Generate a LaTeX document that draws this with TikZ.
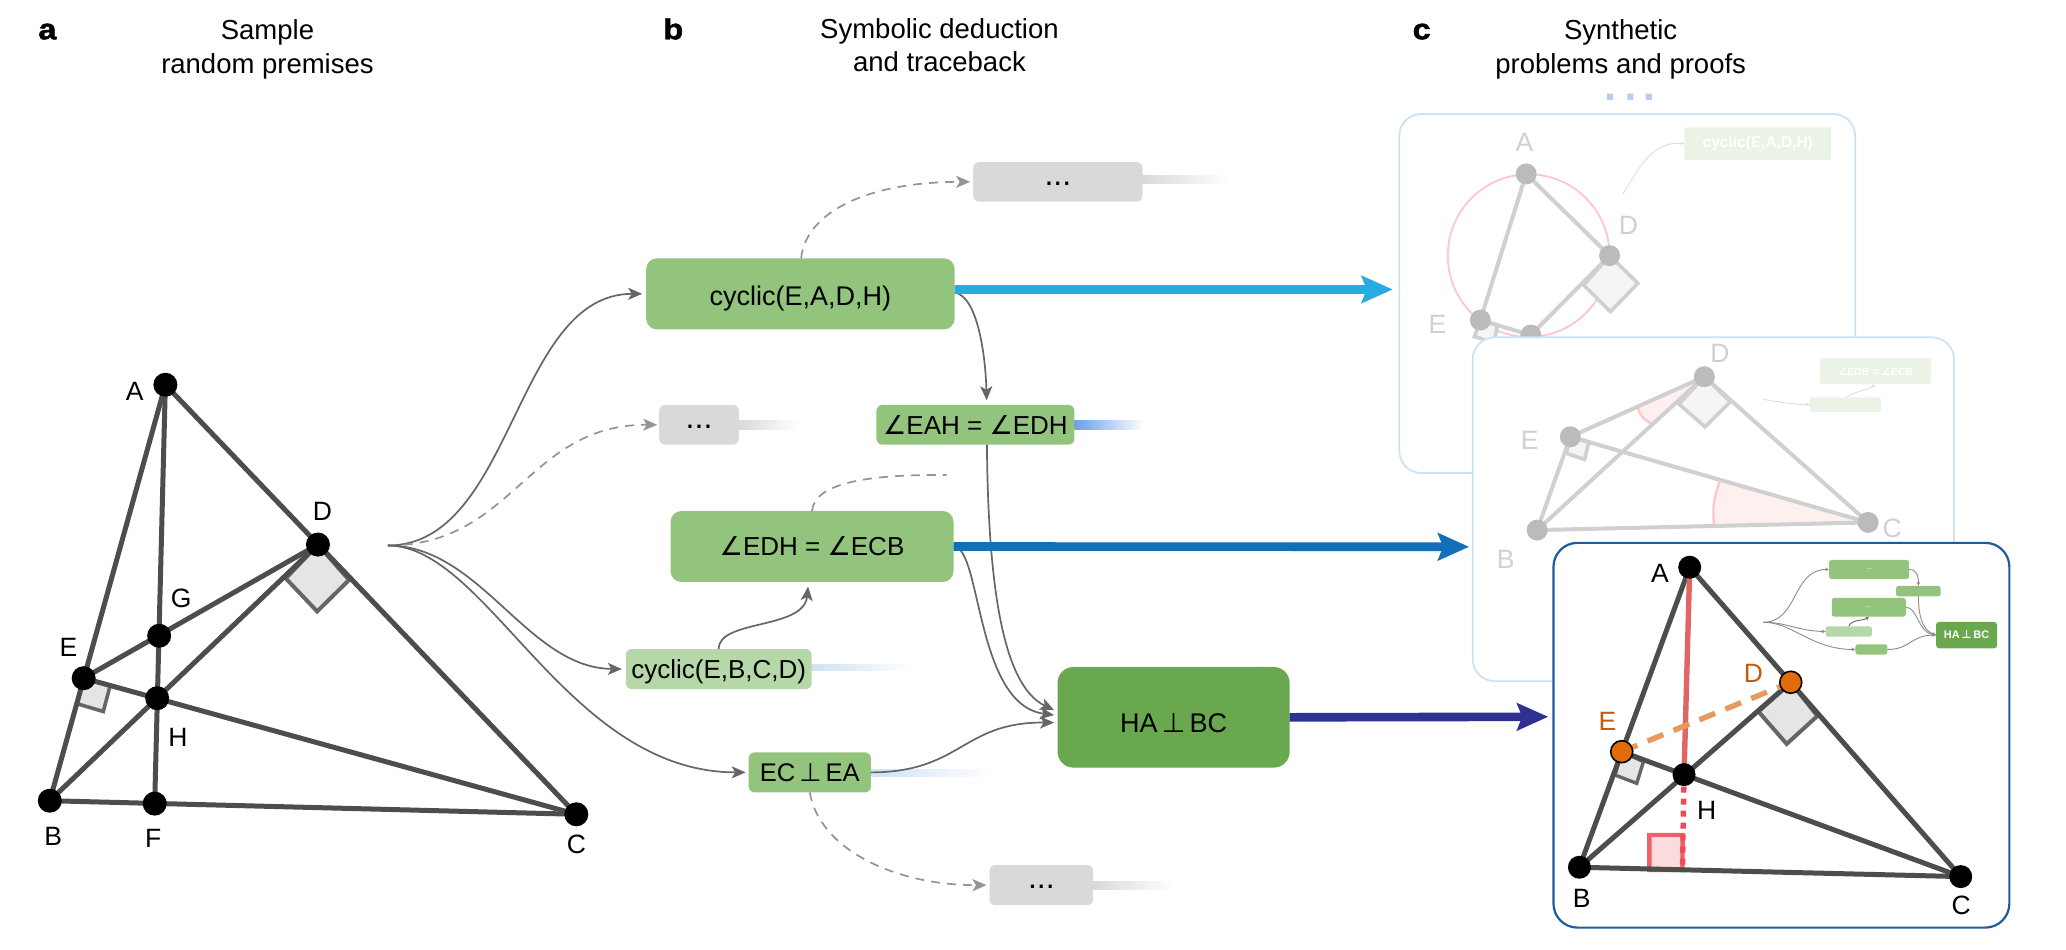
\documentclass[tikz,border=0pt]{standalone}
\usepackage{fontspec}
\setmainfont{Liberation Sans}
\newfontfamily\symf{DejaVu Sans}
\newfontfamily\tagf[BoldFeatures={FakeBold=1.6,FakeStretch=1.12}]{Liberation Sans}
\usetikzlibrary{arrows.meta,calc}
\newcommand{\ang}{{\symf ∠}}
\newcommand{\perpx}{{\hspace{.16em}\symf ⊥\hspace{.16em}}}
\newcommand{\fs}[1]{\fontsize{#1}{#1}\selectfont}
\newcommand{\rbox}[7][]{\node[rb,#1,minimum width={(#5-#3)*1.3176},minimum height={(#6-#4)*1.3176}] (#2) at ({(#3+#5)/2},{(#4+#6)/2}) {#7};}
\definecolor{gm}{HTML}{93C47D}
\definecolor{gl}{HTML}{B6D7A8}
\definecolor{gd}{HTML}{6AA84F}
\definecolor{gy}{HTML}{D9D9D9}
\definecolor{ln}{HTML}{4D4D4D}
\definecolor{fa}{HTML}{D0D0D0}
\definecolor{fn}{HTML}{BBBBBB}
\definecolor{fb}{HTML}{EAF3E6}
\definecolor{pl}{HTML}{CFE2F3}
\definecolor{org}{HTML}{E36C0A}
\definecolor{HL}{HTML}{1F5C99}
\definecolor{redln}{HTML}{E06666}
\definecolor{reddot}{HTML}{EE4B55}
\definecolor{redsq}{HTML}{F0606A}
\definecolor{redfill}{HTML}{FBDCDC}
\definecolor{orgd}{HTML}{E69A5F}
\definecolor{arA}{HTML}{29ABE2}
\definecolor{arB}{HTML}{1170BA}
\definecolor{arC}{HTML}{2E3192}
\definecolor{tailb}{HTML}{6D9EEB}
\definecolor{dotc}{HTML}{B9CDF0}
\tikzset{
 rb/.style={inner sep=0pt,outer sep=0pt,text=black},
 bigbox/.style={fill=gm,rounded corners=11pt,font=\fs{27}},
 smallbox/.style={fill=gm,rounded corners=6pt,font=\fs{26}},
 lightbox/.style={fill=gl,rounded corners=6pt,font=\fs{26}},
 greybox/.style={fill=gy,rounded corners=6pt,font=\fs{32},text height=7pt,text depth=0pt},
 finalbox/.style={fill=gd,rounded corners=16pt,font=\fs{27}},
 panelbox/.style={fill=white,draw=pl,line width=1.8pt,rounded corners=22pt},
 mainpanel/.style={fill=white,draw=HL,line width=2.2pt,rounded corners=24pt},
 title/.style={font=\fontsize{27.5}{33.3}\selectfont,align=center,inner sep=0pt},
 tag/.style={font=\tagf\bfseries\fs{29},inner sep=0pt,anchor=base},
 pt/.style={circle,fill=black,minimum size=24pt,inner sep=0pt,outer sep=0pt},
 ptf/.style={circle,fill=fn,minimum size=21pt,inner sep=0pt,outer sep=0pt},
 pto/.style={circle,fill=org,draw=black,line width=1.6pt,minimum size=22pt,inner sep=0pt,outer sep=0pt},
 lab/.style={font=\fs{26.5},inner sep=0pt},
 labf/.style={font=\fs{26.5},inner sep=0pt,text=fa},
 labo/.style={font=\fs{26.5},inner sep=0pt,text=org!85!black},
 seg/.style={line width=5pt,draw=ln},
 segf/.style={line width=4pt,draw=fa},
 sq/.style={fill=black!10,draw=black!60,line width=4pt,line join=miter},
 sqf/.style={fill=black!4,draw=fa,line width=3.6pt},
 conn/.style={draw=black!60,line width=1.7pt,-{Stealth[length=14pt,width=12pt,inset=3.5pt]}},
 dconn/.style={draw=black!42,line width=1.7pt,dash pattern=on 9pt off 7pt,-{Stealth[length=14pt,width=12pt,inset=3.5pt]}},
 dline/.style={draw=black!42,line width=1.7pt,dash pattern=on 9pt off 7pt},
 bigarrow/.style={line width=8.6pt,-{Stealth[length=31pt,width=27pt,inset=5pt]}},
 mini/.style={draw=black!45,line width=.9pt,-{Stealth[length=4pt,width=3.5pt]}},
 faintarrow/.style={draw=black!13,line width=.9pt,-{Stealth[length=4pt,width=3.5pt]}},
 mb/.style={fill=gm,rounded corners=2.5pt,font=\fs{7},text=white},
}
\begin{document}
\begin{tikzpicture}[x=1.3176pt,y=-1.3176pt]
\useasboundingbox (0,0) rectangle (1568,721);
% titles
\node[tag] (ta) at (36,29.8) {a};
\node[title] (t1) at (203,37.5) {Sample\\random premises};
\node[tag] (tb) at (511,29.8) {b};
\node[title] (t2) at (713,34.5) {Symbolic deduction\\and traceback};
\node[tag] (tc) at (1079,29.8) {c};
\node[title] (t3) at (1230,37.5) {Synthetic\\problems and proofs};
% panel a
\coordinate (A) at (125.5,292);
\coordinate (B) at (37.8,607.7);
\coordinate (C) at (437.4,618);
\coordinate (D) at (241.3,413.3);
\coordinate (E) at (63.5,514.7);
\coordinate (F) at (117.4,609.9);
\coordinate (G) at (120.8,482.5);
\coordinate (H) at (119.3,529.9);
\draw[sq] (D) -- (216.9,439) -- (240.7,464) -- (264.9,440.2) -- cycle;
\draw[sq,line width=3.6pt] (E) -- (58.2,534) -- (78.4,540) -- (83.6,520.4) -- cycle;
\draw[seg] (A) -- (B);
\draw[seg] (A) -- (F);
\draw[seg] (A) -- (C);
\draw[seg] (B) -- (D);
\draw[seg] (E) -- (D);
\draw[seg] (E) -- (C);
\draw[seg] (B) -- (C);
\foreach \p in {A,B,C,D,E,F,G,H} \node[pt] (n\p) at (\p) {};
\node[lab] (lA) at (102.2,297.3) {A};
\node[lab] (lD) at (244.7,388) {D};
\node[lab] (lG) at (137.5,454.5) {G};
\node[lab] (lE) at (52,491) {E};
\node[lab] (lH) at (135,559.5) {H};
\node[lab] (lB) at (40.3,634.8) {B};
\node[lab] (lF) at (116.2,636) {F};
\node[lab] (lC) at (437.4,640.8) {C};
% panel b boxes
\coordinate (fan) at (294.3,414);
\shade[left color=gy,right color=white] (867,133.5) rectangle (933,139.6);
\shade[left color=gy,right color=white] (560.8,319.5) rectangle (606,325.6);
\shade[left color=gy,right color=white] (829.7,669) rectangle (891,674.7);
\shade[left color=tailb,right color=white] (815.4,319.5) rectangle (868,325.6);
\shade[left color=pl,right color=white] (616,504) rectangle (694,508.5);
\shade[left color=pl,right color=white] (661,584) rectangle (754,589.5);
\rbox[bigbox,text height=24pt,text depth=0pt]{cyc}{490.4}{196}{724.6}{250}{cyclic(E,A,D,H)}
\rbox[greybox]{g1}{738.6}{123}{867.1}{153}{...}
\rbox[greybox]{g2}{500.3}{307.3}{560.8}{337.5}{...}
\rbox[greybox]{g3}{751}{656.5}{829.7}{687}{...}
\rbox[smallbox]{eah}{665.2}{307.3}{815.4}{337.5}{\ang EAH = \ang EDH}
\rbox[bigbox,font=\fs{26}]{edh}{508.9}{387.8}{723.7}{441.7}{\ang EDH = \ang ECB}
\rbox[lightbox,text height=19pt,text depth=0pt]{ebc}{475}{492.6}{616}{523}{cyclic(E,B,C,D)}
\rbox[smallbox,font=\fs{25.5}]{eca}{568.2}{571}{661}{601.4}{EC\perpx{}EA}
\rbox[finalbox,text height=30pt,text depth=0pt]{ha}{802.6}{506.2}{978.8}{582.6}{HA\perpx{}BC}
% panel b connectors
\draw[conn,shorten >=4pt] (fan) .. controls (390,414) and (390,223) .. (cyc.west);
\draw[dconn,shorten >=2pt] (fan) .. controls (390,414) and (400,322) .. (g2.west);
\draw[conn,shorten >=4pt] (fan) .. controls (365,414) and (400,507) .. (ebc.west);
\draw[conn,shorten >=3pt] (fan) .. controls (370,414) and (430,586) .. (eca.west);
\draw[conn] ($(cyc.east)+(0,-1)$) .. controls (742,225) and (748,270) .. ($(eah.north)+(8.5,-3.5)$);
\draw[dconn,shorten >=3pt] ($(cyc.north)+(0.5,0)$) .. controls (612,160) and (660,138) .. (g1.west);
\draw[conn] ($(eah.south)+(8.7,0)$) .. controls (750,440) and (760,520) .. ($(ha.west)+(-2.6,-5.5)$);
\draw[conn] (edh.east) .. controls (745,415) and (740,535) .. ($(ha.west)+(-2.6,-1.7)$);
\draw[conn] (eca.east) .. controls (730,586) and (730,548) .. ($(ha.west)+(-2.6,4)$);
\draw[conn] (ebc.north) .. controls (545,470) and (610,478) .. ($(edh.south)+(-3,3.5)$);
\draw[dline] (edh.north) .. controls (618,365) and (665,360) .. (718.4,360.5);
\draw[dconn,shorten >=3pt] (eca.south) .. controls (622,645) and (680,672) .. (g3.west);
% dots
\fill[dotc] (1219.6,71) rectangle ++(4.7,5) (1235,71) rectangle ++(4.7,5) (1249,71) rectangle ++(4.7,5);
% panel 1
\rbox[panelbox]{p1}{1062}{86.5}{1408}{359}{}
\coordinate (aA) at (1158.3,132);
\coordinate (aD) at (1221.6,194);
\coordinate (aE) at (1123.5,242.9);
\coordinate (aH) at (1161.8,254.3);
\draw[draw=red!22,line width=1.8pt] (1160.2,194) ellipse [x radius=61.4,y radius=61.7];
\draw[sqf] (aD) -- (1201.9,216.3) -- (1222.2,236.5) -- (1243.1,215) -- cycle;
\draw[sqf] (aE) -- (1119,255.5) -- (1134,260) -- (1136.5,246.7) -- cycle;
\draw[segf] (aA) -- (aD) (aA) -- (aE) (aE) -- (aH) (aH) -- (aD);
\foreach \p in {aA,aD,aE,aH} \node[ptf] (n\p) at (\p) {};
\node[labf] (alA) at (1156.9,108.3) {A};
\node[labf] (alD) at (1235.9,170.8) {D};
\node[labf] (alE) at (1091,246) {E};
\rbox[fill=fb,rounded corners=2pt,font=\bfseries\fs{15.5},text=white]{acyc}{1278.3}{96.6}{1389.8}{121.4}{cyclic(E,A,D,H)}
\coordinate (af) at (1231.8,147.2);
\draw[faintarrow] (af) .. controls (1245,125) and (1255,107) .. (acyc.west);
% panel 2
\rbox[panelbox]{p2}{1117.7}{256}{1483}{517}{}
\coordinate (bD) at (1293.5,285.9);
\coordinate (bE) at (1191.8,331.5);
\coordinate (bB) at (1166.6,402.3);
\coordinate (bC) at (1417.8,396.5);
\fill[red!6] (bD) -- (1242.9,309.2) .. controls (1246,317) .. (1253.7,321.8) -- cycle;
\fill[red!6] (bC) -- (1305,365.6) .. controls (1300,382) .. (1300.8,399.3) -- cycle;
\draw[red!22,line width=2.4pt] (1242.9,309.2) .. controls (1246,317) .. (1253.7,321.8);
\draw[red!22,line width=2.4pt] (1305,365.6) .. controls (1300,382) .. (1300.8,399.3);
\draw[sqf] (bD) -- (1274.3,306.7) -- (1294,323.9) -- (1313.3,304.9) -- cycle;
\draw[sqf] (bE) -- (1188.7,344) -- (1202.6,348.7) -- (1205.9,335.3) -- cycle;
\draw[segf] (bD) -- (bE) (bD) -- (bB) (bD) -- (bC) (bE) -- (bC) (bE) -- (bB) (bB) -- (bC);
\foreach \p in {bD,bE,bB,bC} \node[ptf] (n\p) at (\p) {};
\node[labf] (blD) at (1305.3,268.2) {D};
\node[labf] (blE) at (1161,334) {E};
\node[labf] (blB) at (1142.7,424.6) {B};
\node[labf] (blC) at (1436,401) {C};
\rbox[fill=fb,rounded corners=2.5pt,font=\bfseries\fs{10.5},text=white]{bb1}{1381.3}{272}{1465.6}{291.5}{\ang EDB = \ang ECB}
\rbox[fill=fb,rounded corners=2pt]{bb2}{1373.7}{301.6}{1427.4}{312.5}{}
\coordinate (bf) at (1338.5,303.1);
\draw[faintarrow] (bf) .. controls (1350,305) and (1360,307) .. (bb2.west);
\draw[faintarrow] ($(bb2.north)+(0.8,0)$) .. controls (1410,296) and (1418,296) .. ($(bb1.south)+(-0.2,0)$);
% panel 3
\rbox[mainpanel]{p3}{1179}{412}{1525}{704}{}
\coordinate (cA) at (1282.4,430.5);
\coordinate (cB) at (1198.7,658.2);
\coordinate (cC) at (1488.1,665.3);
\coordinate (cD) at (1359.1,517.8);
\coordinate (cE) at (1230.8,570.5);
\coordinate (cH) at (1278.1,587.9);
\coordinate (cF) at (1276.9,660.3);
\filldraw[fill=redfill,draw=redsq,line width=4.4pt] (1251.8,660.3) -- (1251.8,633.7) -- (1277,633.7) -- (cF) -- cycle;
\draw[sq] (cD) -- (1334.5,540) -- (1356,564.6) -- (1379.3,543.4) -- cycle;
\draw[sq,line width=3.4pt] (cE) -- (1225.7,588.2) -- (1242.2,594.5) -- (1247.3,578) -- cycle;
\draw[seg] (cA) -- (cB);
\draw[seg] (cA) -- (cC);
\draw[seg] (cB) -- (cD);
\draw[seg] (cE) -- (cC);
\draw[seg] (cB) -- (cC);
\draw[line width=5.4pt,draw=redln] (cA) -- (cH);
\draw[line width=5.4pt,draw=reddot,dash pattern=on 6pt off 6pt] (cH) -- (cF);
\draw[line width=5.4pt,draw=orgd,dash pattern=on 17pt off 11pt] (cE) -- (cD);
\foreach \p in {cA,cB,cC,cH} \node[pt,minimum size=23pt] (n\p) at (\p) {};
\foreach \p in {cD,cE} \node[pto] (n\p) at (\p) {};
\node[lab] (clA) at (1259.9,435) {A};
\node[lab] (clH) at (1295.3,614.7) {H};
\node[lab] (clB) at (1200.4,681.8) {B};
\node[lab] (clC) at (1488.4,686.9) {C};
\node[labo] (clD) at (1330.7,511) {D};
\node[labo] (clE) at (1220,547.7) {E};
% mini flow
\rbox[mb]{m1}{1388.2}{425}{1448.9}{439.4}{...}
\rbox[mb]{m2}{1439}{444.7}{1472.9}{452.6}{}
\rbox[mb]{m3}{1390.2}{453.8}{1446.4}{468}{...}
\rbox[mb,fill=gl]{m4}{1385.6}{475.3}{1420.8}{483.2}{}
\rbox[mb]{m5}{1408.2}{489}{1432.4}{496.8}{}
\rbox[mb,fill=gd,font=\bfseries\fs{11},rounded corners=3pt]{m6}{1469.4}{472}{1515.7}{492}{HA\perpx{}BC}
\coordinate (mf) at (1338.3,472.3);
\draw[mini] (mf) .. controls (1365,472) and (1360,432) .. (m1.west);
\draw[mini] (mf) .. controls (1355,472) and (1365,479) .. (m4.west);
\draw[mini] (mf) .. controls (1360,472) and (1375,493) .. (m5.west);
\draw[mini] (m1.east) .. controls (1454,432) and (1456,436) .. (m2.north);
\draw[mini] (m2.south) .. controls (1456,465) and (1458,478) .. (m6.west);
\draw[mini] (m3.east) .. controls (1456,461) and (1455,480) .. (m6.west);
\draw[mini] (m5.east) .. controls (1450,493) and (1450,482) .. (m6.west);
\draw[mini,draw=black!60] (m4.north) .. controls (1405,470) and (1415,471) .. (m3.south);
% big arrows
\coordinate (a1) at (1057,219.7);
\coordinate (a2) at (1115,415);
\coordinate (a3) at (1175,544);
\draw[bigarrow,color=arA] ($(cyc.east)+(0,-3.3)$) -- (a1);
\draw[bigarrow,color=arB] (edh.east) -- (a2);
\draw[bigarrow,color=arC] (ha.east) -- (a3);
\end{tikzpicture}
\end{document}
